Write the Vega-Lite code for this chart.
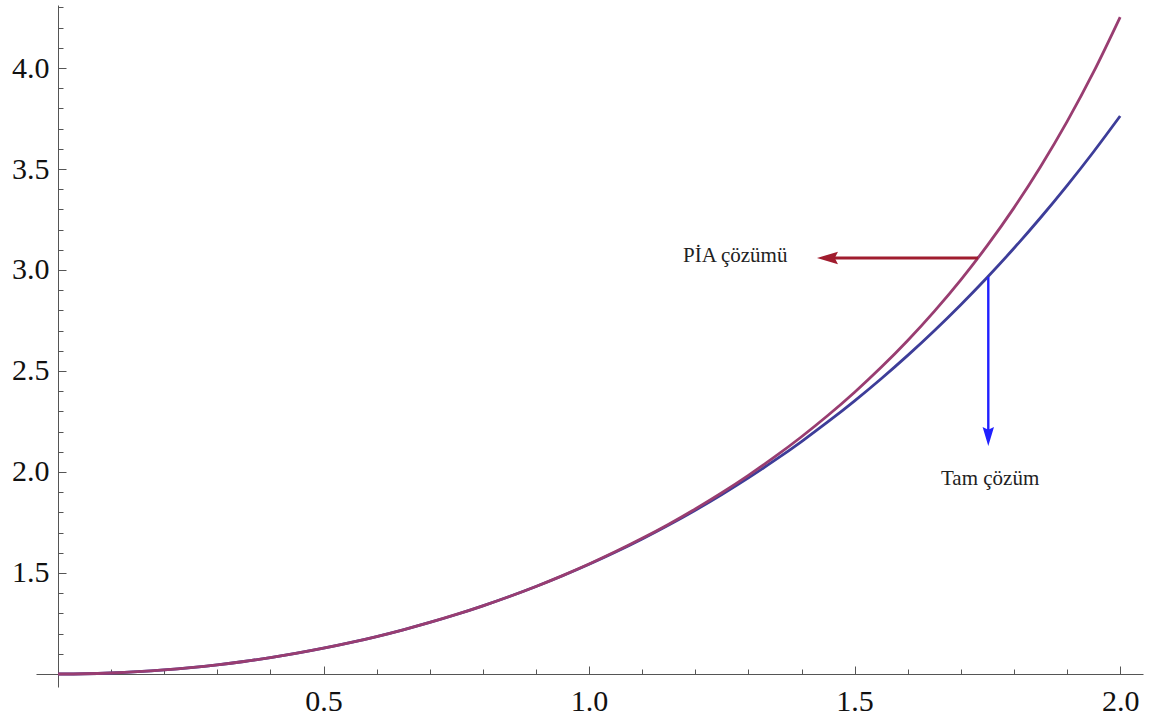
{
  "$schema": "https://vega.github.io/schema/vega-lite/v6.json",
  "autosize": {"type": "none"},
  "padding": {"left": 36, "top": 5, "right": 14, "bottom": 35},
  "width": 1107,
  "height": 682,
  "background": "white",
  "config": {"view": {"stroke": null}},
  "resolve": {"axis": {"x": "independent", "y": "independent"}},
  "datasets": {
    "curves": [
      {"x": 0.0, "y": 1.0, "series": "Tam"},
      {"x": 0.05, "y": 1.00125, "series": "Tam"},
      {"x": 0.1, "y": 1.005, "series": "Tam"},
      {"x": 0.15, "y": 1.01126, "series": "Tam"},
      {"x": 0.2, "y": 1.02007, "series": "Tam"},
      {"x": 0.25, "y": 1.03141, "series": "Tam"},
      {"x": 0.3, "y": 1.04534, "series": "Tam"},
      {"x": 0.35, "y": 1.06188, "series": "Tam"},
      {"x": 0.4, "y": 1.08107, "series": "Tam"},
      {"x": 0.45, "y": 1.10297, "series": "Tam"},
      {"x": 0.5, "y": 1.12763, "series": "Tam"},
      {"x": 0.55, "y": 1.1551, "series": "Tam"},
      {"x": 0.6, "y": 1.18547, "series": "Tam"},
      {"x": 0.65, "y": 1.21879, "series": "Tam"},
      {"x": 0.7, "y": 1.25517, "series": "Tam"},
      {"x": 0.75, "y": 1.29468, "series": "Tam"},
      {"x": 0.8, "y": 1.33743, "series": "Tam"},
      {"x": 0.85, "y": 1.38353, "series": "Tam"},
      {"x": 0.9, "y": 1.43309, "series": "Tam"},
      {"x": 0.95, "y": 1.48623, "series": "Tam"},
      {"x": 1.0, "y": 1.54308, "series": "Tam"},
      {"x": 1.05, "y": 1.60379, "series": "Tam"},
      {"x": 1.1, "y": 1.66852, "series": "Tam"},
      {"x": 1.15, "y": 1.73741, "series": "Tam"},
      {"x": 1.2, "y": 1.81066, "series": "Tam"},
      {"x": 1.25, "y": 1.88842, "series": "Tam"},
      {"x": 1.3, "y": 1.97091, "series": "Tam"},
      {"x": 1.35, "y": 2.05833, "series": "Tam"},
      {"x": 1.4, "y": 2.1509, "series": "Tam"},
      {"x": 1.45, "y": 2.24884, "series": "Tam"},
      {"x": 1.5, "y": 2.35241, "series": "Tam"},
      {"x": 1.55, "y": 2.46186, "series": "Tam"},
      {"x": 1.6, "y": 2.57746, "series": "Tam"},
      {"x": 1.65, "y": 2.69951, "series": "Tam"},
      {"x": 1.7, "y": 2.82832, "series": "Tam"},
      {"x": 1.75, "y": 2.96419, "series": "Tam"},
      {"x": 1.8, "y": 3.10747, "series": "Tam"},
      {"x": 1.85, "y": 3.25853, "series": "Tam"},
      {"x": 1.9, "y": 3.41773, "series": "Tam"},
      {"x": 1.95, "y": 3.58548, "series": "Tam"},
      {"x": 2.0, "y": 3.7622, "series": "Tam"},
      {"x": 0.0, "y": 1.0, "series": "PIA"},
      {"x": 0.05, "y": 1.00125, "series": "PIA"},
      {"x": 0.1, "y": 1.005, "series": "PIA"},
      {"x": 0.15, "y": 1.01126, "series": "PIA"},
      {"x": 0.2, "y": 1.02007, "series": "PIA"},
      {"x": 0.25, "y": 1.03141, "series": "PIA"},
      {"x": 0.3, "y": 1.04534, "series": "PIA"},
      {"x": 0.35, "y": 1.06188, "series": "PIA"},
      {"x": 0.4, "y": 1.08107, "series": "PIA"},
      {"x": 0.45, "y": 1.10297, "series": "PIA"},
      {"x": 0.5, "y": 1.12763, "series": "PIA"},
      {"x": 0.55, "y": 1.1551, "series": "PIA"},
      {"x": 0.6, "y": 1.18548, "series": "PIA"},
      {"x": 0.65, "y": 1.21881, "series": "PIA"},
      {"x": 0.7, "y": 1.25521, "series": "PIA"},
      {"x": 0.75, "y": 1.29476, "series": "PIA"},
      {"x": 0.8, "y": 1.33757, "series": "PIA"},
      {"x": 0.85, "y": 1.38377, "series": "PIA"},
      {"x": 0.9, "y": 1.43349, "series": "PIA"},
      {"x": 0.95, "y": 1.48713, "series": "PIA"},
      {"x": 1.0, "y": 1.5444, "series": "PIA"},
      {"x": 1.05, "y": 1.6059, "series": "PIA"},
      {"x": 1.1, "y": 1.6715, "series": "PIA"},
      {"x": 1.15, "y": 1.7418, "series": "PIA"},
      {"x": 1.2, "y": 1.8171, "series": "PIA"},
      {"x": 1.25, "y": 1.8974, "series": "PIA"},
      {"x": 1.3, "y": 1.9835, "series": "PIA"},
      {"x": 1.35, "y": 2.0757, "series": "PIA"},
      {"x": 1.4, "y": 2.1745, "series": "PIA"},
      {"x": 1.45, "y": 2.2807, "series": "PIA"},
      {"x": 1.5, "y": 2.3949, "series": "PIA"},
      {"x": 1.55, "y": 2.518, "series": "PIA"},
      {"x": 1.6, "y": 2.651, "series": "PIA"},
      {"x": 1.65, "y": 2.7952, "series": "PIA"},
      {"x": 1.7, "y": 2.9514, "series": "PIA"},
      {"x": 1.75, "y": 3.1217, "series": "PIA"},
      {"x": 1.8, "y": 3.3076, "series": "PIA"},
      {"x": 1.85, "y": 3.5112, "series": "PIA"},
      {"x": 1.9, "y": 3.7345, "series": "PIA"},
      {"x": 1.95, "y": 3.9806, "series": "PIA"},
      {"x": 2.0, "y": 4.2522, "series": "PIA"}
    ],
    "notes": [
      {"name": "PIA", "label": "PİA çözümü", "x": 1.7323, "y": 3.0594, "x2": 1.46, "y2": 3.0594, "hx": 1.4489, "hy": 3.0594, "tx": 1.1768, "ty": 3.0396},
      {"name": "Tam", "label": "Tam çözüm", "x": 1.7517, "y": 2.9653, "x2": 1.7517, "y2": 2.2, "hx": 1.7517, "hy": 2.1757, "tx": 1.6626, "ty": 1.9356}
    ]
  },
  "layer": [
    {
      "data": {"name": "curves"},
      "transform": [{"filter": "datum.series == 'Tam'"}],
      "mark": {"type": "line", "color": "#3d3d99", "strokeWidth": 2.8, "interpolate": "monotone"},
      "encoding": {
        "x": {
          "field": "x", "type": "quantitative",
          "scale": {"domain": [-0.0414, 2.043], "nice": false, "zero": false},
          "axis": {
            "orient": "bottom", "offset": -13, "title": null, "grid": false,
            "values": [0.5, 1.0, 1.5, 2.0],
            "format": ".1f",
            "tickSize": -8,
            "domainColor": "#555555", "tickColor": "#555555", "domainWidth": 1, "tickWidth": 1,
            "labelFont": "Liberation Serif", "labelFontSize": 30, "labelColor": "#111111",
            "labelPadding": 20, "labelFlush": false, "labelOverlap": false
          }
        },
        "y": {
          "field": "y", "type": "quantitative",
          "scale": {"domain": [0.9356, 4.3119], "nice": false, "zero": false},
          "axis": {
            "orient": "left", "offset": -22, "title": null, "grid": false,
            "values": [1.5, 2.0, 2.5, 3.0, 3.5, 4.0],
            "format": ".1f",
            "tickSize": -8,
            "domainColor": "#555555", "tickColor": "#555555", "domainWidth": 1, "tickWidth": 1,
            "labelFont": "Liberation Serif", "labelFontSize": 30, "labelColor": "#111111",
            "labelPadding": 17, "labelFlush": false, "labelOverlap": false
          }
        }
      }
    },
    {
      "data": {"name": "curves"},
      "transform": [{"filter": "datum.series == 'PIA'"}],
      "mark": {"type": "line", "color": "#993d71", "strokeWidth": 2.8, "interpolate": "monotone"},
      "encoding": {
        "x": {
          "field": "x", "type": "quantitative",
          "axis": {
            "orient": "bottom", "offset": -13, "title": null, "grid": false, "domain": false, "labels": false,
            "values": [0.1,0.2,0.3,0.4,0.6,0.7,0.8,0.9,1.1,1.2,1.3,1.4,1.6,1.7,1.8,1.9],
            "tickSize": -5, "tickColor": "#555555", "tickWidth": 1
          }
        },
        "y": {
          "field": "y", "type": "quantitative",
          "axis": {
            "orient": "left", "offset": -22, "title": null, "grid": false, "domain": false, "labels": false,
            "values": [1.1,1.2,1.3,1.4,1.6,1.7,1.8,1.9,2.1,2.2,2.3,2.4,2.6,2.7,2.8,2.9,3.1,3.2,3.3,3.4,3.6,3.7,3.8,3.9,4.1,4.2,4.3],
            "tickSize": -5, "tickColor": "#555555", "tickWidth": 1
          }
        }
      }
    },
    {
      "data": {"name": "notes"},
      "transform": [{"filter": "datum.name == 'PIA'"}],
      "mark": {"type": "rule", "color": "#a01c2e", "strokeWidth": 3},
      "encoding": {
        "x": {"field": "x", "type": "quantitative", "axis": null},
        "x2": {"field": "x2"},
        "y": {"field": "y", "type": "quantitative", "axis": null},
        "y2": {"field": "y2"}
      }
    },
    {
      "data": {"name": "notes"},
      "transform": [{"filter": "datum.name == 'PIA'"}],
      "mark": {"type": "point", "shape": "M-1,0L1,-0.6L0.7,0L1,0.6Z", "filled": true, "color": "#a01c2e", "opacity": 1, "size": 441},
      "encoding": {
        "x": {"field": "hx", "type": "quantitative", "axis": null},
        "y": {"field": "hy", "type": "quantitative", "axis": null}
      }
    },
    {
      "data": {"name": "notes"},
      "transform": [{"filter": "datum.name == 'Tam'"}],
      "mark": {"type": "rule", "color": "#2020ff", "strokeWidth": 2.4},
      "encoding": {
        "x": {"field": "x", "type": "quantitative", "axis": null},
        "x2": {"field": "x2"},
        "y": {"field": "y", "type": "quantitative", "axis": null},
        "y2": {"field": "y2"}
      }
    },
    {
      "data": {"name": "notes"},
      "transform": [{"filter": "datum.name == 'Tam'"}],
      "mark": {"type": "point", "shape": "M0,1L-0.6,-1L0,-0.7L0.6,-1Z", "filled": true, "color": "#2020ff", "opacity": 1, "size": 361},
      "encoding": {
        "x": {"field": "hx", "type": "quantitative", "axis": null},
        "y": {"field": "hy", "type": "quantitative", "axis": null}
      }
    },
    {
      "data": {"name": "notes"},
      "mark": {"type": "text", "align": "left", "baseline": "alphabetic", "font": "Liberation Serif", "fontSize": 21, "color": "#222222"},
      "encoding": {
        "x": {"field": "tx", "type": "quantitative", "axis": null},
        "y": {"field": "ty", "type": "quantitative", "axis": null},
        "text": {"field": "label"}
      }
    }
  ]
}
